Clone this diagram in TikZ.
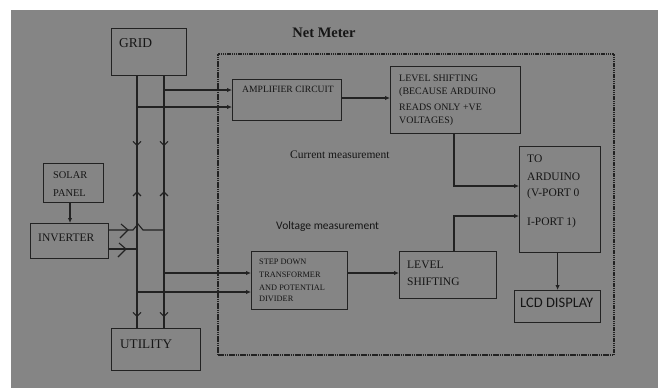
\documentclass[tikz,border=0pt]{standalone}
\usepackage{fontspec}
\setmainfont{Liberation Serif}
\newfontfamily\calib{Carlito}
\usetikzlibrary{arrows.meta,decorations.markings}
\definecolor{bg}{HTML}{858585}
\definecolor{ink}{HTML}{222222}
\definecolor{txt}{HTML}{161616}
\tikzset{
  x=1pt,y=-1pt,
  blk/.style={draw=ink,line width=1.2pt,anchor=north west,inner sep=0pt},
  lbl/.style={anchor=west,inner sep=0pt,text=txt,align=left},
  wire/.style={draw=ink,line width=1.1pt},
  tap/.style={wire,-{Latex[length=5pt,width=4.5pt]}},
}
\begin{document}
\begin{tikzpicture}
\useasboundingbox (0,0) rectangle (658,388);
\fill[white] (0,0) rectangle (658,388);
\fill[bg] (11,10) rectangle (658,388);

% boxes
\node[blk,minimum width=75pt,minimum height=47pt] (GRID) at (111,28) {};
\node[blk,minimum width=89pt,minimum height=42pt] (UTIL) at (111,328) {};
\node[blk,minimum width=60pt,minimum height=39pt] (SOLAR) at (43,163) {};
\node[blk,minimum width=78pt,minimum height=35pt] (INV) at (30,223) {};
\node[blk,minimum width=109pt,minimum height=41pt] (AMP) at (232,79) {};
\node[blk,minimum width=130pt,minimum height=67pt] (LS1) at (390,66) {};
\node[blk,minimum width=81pt,minimum height=106pt] (ARD) at (519,146) {};
\node[blk,minimum width=86pt,minimum height=32pt] (LCD) at (514,290) {};
\node[blk,minimum width=97pt,minimum height=47pt] (LS2) at (399,251) {};
\node[blk,minimum width=96pt,minimum height=58pt] (SD) at (251,251) {};
\node[draw=ink,line width=2pt,dash pattern=on 1.5pt off 0.7pt,anchor=north west,inner sep=0pt,
      minimum width=396pt,minimum height=301pt] (NM) at (217,53) {};

% labels
\node[lbl,font=\fontsize{13.5}{15}\selectfont] (tGRID) at (119,43) {GRID};
\node[lbl,font=\fontsize{13.2}{15}\selectfont] (tUTIL) at (120,344) {UTILITY};
\node[lbl,font=\fontsize{10.4}{18}\selectfont] (tSOL1) at (53,175) {SOLAR};
\node[lbl,font=\fontsize{10.4}{18}\selectfont] (tSOL2) at (53,193) {PANEL};
\node[lbl,font=\fontsize{11.5}{14}\selectfont] (tINV) at (38,238) {INVERTER};
\node[anchor=center,inner sep=0pt,text=txt,font=\bfseries\fontsize{14.5}{16}\selectfont] (tNM) at (324,33) {Net Meter};
\node[lbl,font=\fontsize{9.6}{12}\selectfont] (tAMP) at (242,89) {AMPLIFIER CIRCUIT};
\node[lbl,font=\fontsize{9.9}{12}\selectfont] (tLS1a) at (399,78) {LEVEL SHIFTING};
\node[lbl,font=\fontsize{9.9}{12}\selectfont] (tLS1b) at (399,92) {(BECAUSE ARDUINO};
\node[lbl,font=\fontsize{9.9}{12}\selectfont] (tLS1c) at (399,107) {READS ONLY +VE};
\node[lbl,font=\fontsize{9.9}{12}\selectfont] (tLS1d) at (399,121) {VOLTAGES)};
\node[lbl,font=\fontsize{11.5}{14}\selectfont] (tCM) at (290,155) {Current measurement};
\node[lbl,font=\calib\fontsize{11.5}{14}\selectfont] (tVM) at (276,226) {Voltage measurement};
\node[lbl,font=\fontsize{11.5}{14}\selectfont] (tARDa) at (527,159) {TO};
\node[lbl,font=\fontsize{11.5}{14}\selectfont] (tARDb) at (527,177) {ARDUINO};
\node[lbl,font=\fontsize{11.5}{14}\selectfont] (tARDc) at (527,194) {(V-PORT 0};
\node[lbl,font=\fontsize{11.5}{14}\selectfont] (tARDd) at (527,223) {I-PORT 1)};
\node[lbl,font=\calib\fontsize{14.5}{16}\selectfont] (tLCD) at (520,303) {LCD DISPLAY};
\node[lbl,font=\fontsize{11.5}{14}\selectfont] (tLS2a) at (407,265) {LEVEL};
\node[lbl,font=\fontsize{11.5}{14}\selectfont] (tLS2b) at (407,282) {SHIFTING};
\node[lbl,font=\fontsize{8.3}{10}\selectfont] (tSDa) at (259,262) {STEP DOWN};
\node[lbl,font=\fontsize{8.3}{10}\selectfont] (tSDb) at (259,275) {TRANSFORMER};
\node[lbl,font=\fontsize{8.3}{10}\selectfont] (tSDc) at (259,288) {AND POTENTIAL};
\node[lbl,font=\fontsize{8.3}{10}\selectfont] (tSDd) at (259,299) {DIVIDER};

% reference coordinates
\coordinate (lx) at (137,0);
\coordinate (rx) at (164,0);
\coordinate (y90) at (0,90);
\coordinate (y107) at (0,107);
\coordinate (y98) at (0,98);
\coordinate (y186) at (0,186);
\coordinate (y216) at (0,216);
\coordinate (y273) at (0,273);
\coordinate (y292) at (0,292);
\coordinate (y230) at (0,230);
\coordinate (y249) at (0,249);
\coordinate (mx) at (454,0);
\coordinate (sx) at (70,0);

% main vertical lines with chevrons
\foreach \c in {lx,rx}{
  \draw[wire,decoration={markings,
      mark=at position 70pt with {\arrow{Straight Barb[length=4pt,width=8pt,line width=1.1pt]}},
      mark=at position 115pt with {\arrowreversed{Straight Barb[length=4pt,width=8pt,line width=1.1pt]}},
      mark=at position 241pt with {\arrow{Straight Barb[length=4pt,width=8pt,line width=1.1pt]}}},
      postaction={decorate}]
    (GRID.south -| \c) -- (UTIL.north -| \c);
}

% taps to amplifier
\draw[tap] (rx |- y90) -- (AMP.west |- y90);
\draw[tap] (lx |- y107) -- (AMP.west |- y107);
% taps to step-down
\draw[tap] (rx |- y273) -- (SD.west |- y273);
\draw[tap] (lx |- y292) -- (SD.west |- y292);

% signal chain
\draw[tap] (AMP.east |- y98) -- (LS1.west |- y98);
\draw[tap] (LS1.south -| mx) |- (ARD.west |- y186);
\draw[tap] (SD.east |- y273) -- (LS2.west |- y273);
\draw[tap] (LS2.north -| mx) |- (ARD.west |- y216);
\draw[tap] (LCD.north |- ARD.south) -- (LCD.north);
\draw[tap] (SOLAR.south -| sx) -- (INV.north -| sx);

% inverter outputs
\coordinate (h1) at (133,230);
\coordinate (h2) at (138,224);
\coordinate (h3) at (143,230);
\draw[wire] (INV.east |- y230) -- (h1) -- (h2) -- (h3) -- (rx |- y230);
\draw[wire] (INV.east |- y249) -- (lx |- y249);
\coordinate (c1) at (128,230);
\coordinate (c2) at (126,249);
\draw[wire] ([shift={(-7,-6)}]c1) -- (c1) -- ([shift={(-8,8)}]c1);
\draw[wire] ([shift={(-7,-6)}]c2) -- (c2) -- ([shift={(-8,8)}]c2);
\end{tikzpicture}
\end{document}
